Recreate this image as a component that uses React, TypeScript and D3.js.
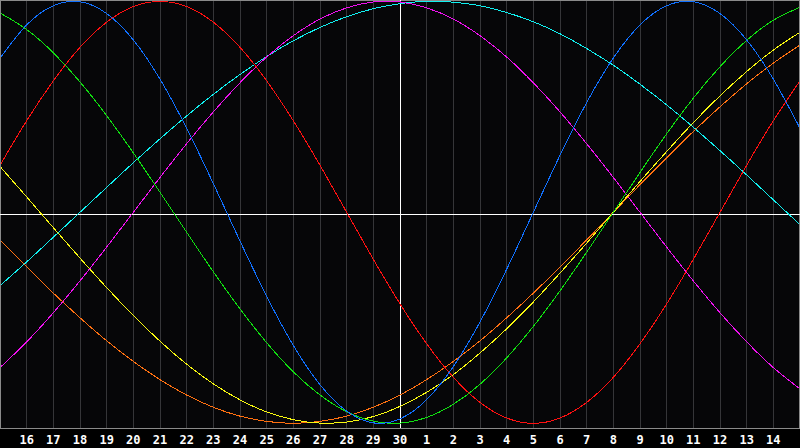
import React from "react";
import * as d3 from "d3";

// Day labels for each grid position (index 0 at the left edge, 30 at the right edge)
const days = [15, 16, 17, 18, 19, 20, 21, 22, 23, 24, 25, 26, 27, 28, 29, 30, 1, 2, 3, 4, 5, 6, 7, 8, 9, 10, 11, 12, 13, 14, 15];

// Cycle values (percent, -100..100) read at each day grid line
const physical = [73.1, 88.8, 97.9, 99.8, 94.2, 81.7, 63.1, 39.8, 13.6, -13.6, -39.8, -63.1, -81.7, -94.2, -99.8, -97.9, -88.8, -73.1, -52.0, -27.0, 0, 27.0, 52.0, 73.1, 88.8, 97.9, 99.8, 94.2, 81.7, 63.1, 39.8];
const emotional = [22.3, 43.4, 62.3, 78.2, 90.1, 97.5, 100, 97.5, 90.1, 78.2, 62.3, 43.4, 22.3, 0, -22.3, -43.4, -62.3, -78.2, -90.1, -97.5, -100, -97.5, -90.1, -78.2, -62.3, -43.4, -22.3, 0, 22.3, 43.4, 62.3];
const intellectual = [94.5, 86.6, 75.6, 61.8, 45.8, 28.2, 9.5, -9.5, -28.2, -45.8, -61.8, -75.6, -86.6, -94.5, -99.0, -99.9, -97.2, -91.0, -81.5, -69.0, -54.1, -37.2, -18.9, 0, 18.9, 37.2, 54.1, 69.0, 81.5, 91.0, 97.2];
const intuitive = [-73.6, -61.4, -47.6, -32.5, -16.5, 0, 16.5, 32.5, 47.6, 61.4, 73.6, 83.7, 91.6, 96.9, 99.7, 99.7, 96.9, 91.6, 83.7, 73.6, 61.4, 47.6, 32.5, 16.5, 0, -16.5, -32.5, -47.6, -61.4, -73.6, -83.7];
const aesthetic = [21.7, 7.3, -7.3, -21.7, -35.7, -48.9, -61.1, -72.0, -81.3, -88.9, -94.6, -98.3, -99.9, -99.4, -96.8, -92.0, -85.3, -76.9, -66.7, -55.2, -42.5, -28.8, -14.6, 0, 14.6, 28.8, 42.5, 55.2, 66.7, 76.9, 85.3];
const awareness = [-13.1, -25.9, -38.3, -50.0, -60.9, -70.7, -79.3, -86.6, -92.4, -96.6, -99.1, -100, -99.1, -96.6, -92.4, -86.6, -79.3, -70.7, -60.9, -50.0, -38.3, -25.9, -13.1, 0, 13.1, 25.9, 38.3, 50.0, 60.9, 70.7, 79.3];
const spiritual = [-34.8, -23.5, -11.8, 0, 11.8, 23.5, 34.8, 45.7, 55.9, 65.3, 73.8, 81.3, 87.6, 92.7, 96.5, 98.9, 100.0, 99.6, 97.9, 94.7, 90.3, 84.6, 77.6, 69.7, 60.7, 50.9, 40.3, 29.2, 17.7, 5.9, -5.9];

const series = [
  { name: "spiritual", values: spiritual, color: "#10f0f0" },
  { name: "intuitive", values: intuitive, color: "#f010f0" },
  { name: "awareness", values: awareness, color: "#ff7010" },
  { name: "aesthetic", values: aesthetic, color: "#f8f810" },
  { name: "intellectual", values: intellectual, color: "#10e010" },
  { name: "emotional", values: emotional, color: "#ff1010" },
  { name: "physical", values: physical, color: "#1070ff" },
];

const W = 800;
const H = 448;
const PLOT_H = 428;
const TODAY_INDEX = 15;

export default function App() {
  const x = d3.scaleLinear().domain([0, days.length - 1]).range([0, W]);
  const y = d3.scaleLinear().domain([-100, 100]).range([212.3 + 211, 212.3 - 211]);
  const line = d3
    .line<number>()
    .x((_, i) => x(i))
    .y((v) => y(v))
    .curve(d3.curveNatural);

  const px = (v: number) => Math.floor(v) + 0.5;

  return (
    <svg
      width={W}
      height={H}
      style={{ position: "absolute", left: 0, top: 0, display: "block", background: "#000" }}
    >
      <defs>
        <clipPath id="plotclip">
          <rect x={1} y={1} width={W - 2} height={PLOT_H - 1} />
        </clipPath>
      </defs>
      <rect x={0} y={0} width={W} height={PLOT_H} fill="#060608" />
      {/* day grid */}
      {days.map((d, i) =>
        i > 0 && i < days.length - 1 ? (
          <line
            key={"g" + i}
            x1={px(x(i))}
            x2={px(x(i))}
            y1={0}
            y2={PLOT_H}
            stroke="#353538"
            strokeWidth={1}
            shapeRendering="crispEdges"
          />
        ) : null
      )}
      {/* frame */}
      <rect
        x={0.5}
        y={0.5}
        width={W - 1}
        height={PLOT_H - 0.5}
        fill="none"
        stroke="#8a8a8a"
        strokeWidth={1}
        shapeRendering="crispEdges"
      />
      {/* axis lines */}
      <line x1={0} x2={W} y1={214.5} y2={214.5} stroke="#ffffff" strokeWidth={1} shapeRendering="crispEdges" />
      <line
        x1={px(x(TODAY_INDEX))}
        x2={px(x(TODAY_INDEX))}
        y1={0}
        y2={PLOT_H}
        stroke="#ffffff"
        strokeWidth={1}
        shapeRendering="crispEdges"
      />
      {/* cycles */}
      <g clipPath="url(#plotclip)">
        {series.map((s) => (
          <path
            key={s.name}
            d={line(s.values) || ""}
            fill="none"
            stroke={s.color}
            strokeWidth={1}
            shapeRendering="crispEdges"
          />
        ))}
      </g>
      {/* day labels */}
      {days.map((d, i) =>
        i > 0 && i < days.length - 1 ? (
          <text
            key={"t" + i}
            x={x(i)}
            y={443.5}
            textAnchor="middle"
            fill="#ffffff"
            fontFamily="'DejaVu Sans Mono', monospace"
            fontWeight="bold"
            fontSize={12}
          >
            {d}
          </text>
        ) : null
      )}
    </svg>
  );
}
